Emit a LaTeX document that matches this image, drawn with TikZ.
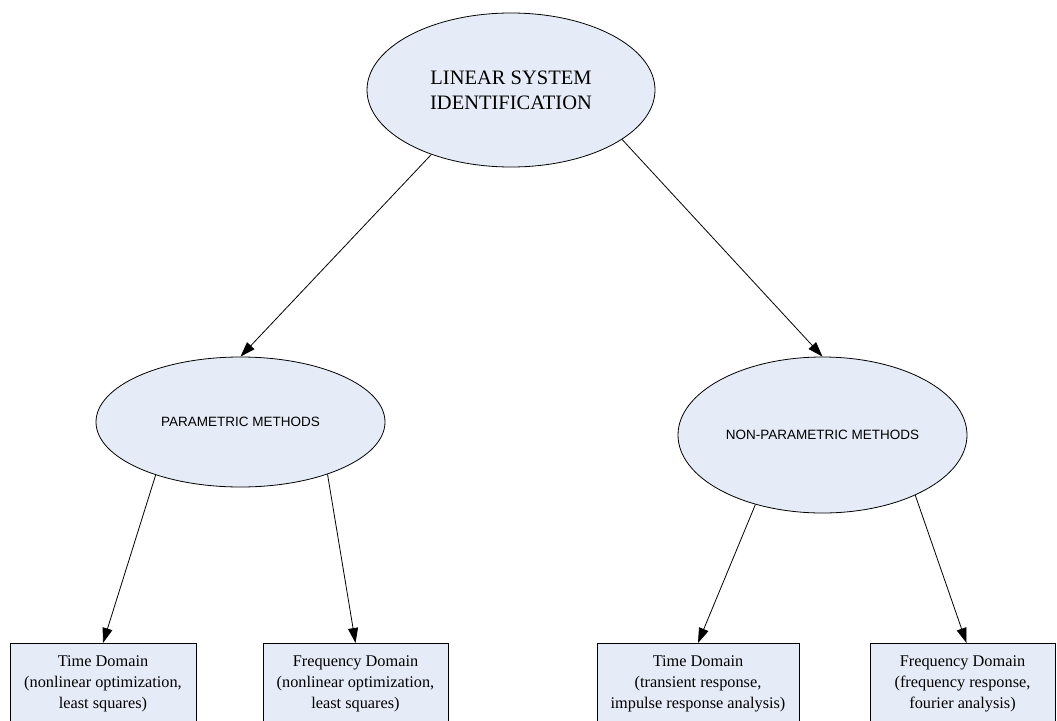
\documentclass[tikz,border=0pt]{standalone}
\usepackage{fontspec}
\setmainfont{Liberation Serif}
\newfontfamily\arialfont{Liberation Sans}
\usetikzlibrary{shapes.geometric,arrows.meta,calc}
\definecolor{nodefill}{RGB}{230,236,247}
\tikzset{
  ell/.style={ellipse, draw=black, fill=nodefill, line width=0.8pt, inner sep=0pt, align=center},
  dombox/.style={rectangle, draw=black, fill=nodefill, line width=0.8pt, inner sep=0pt, align=center,
    minimum height=80pt, anchor=north, font=\fontsize{16.3}{21}\selectfont},
  conn/.style={draw=black, line width=0.8pt, -{Triangle[length=15pt,width=10pt]}},
}
\begin{document}
\begin{tikzpicture}[x=1pt,y=-1pt]
\useasboundingbox (0,0) rectangle (1057,720);
\node[ell, minimum width=288pt, minimum height=154pt, font=\fontsize{20.5}{25}\selectfont] (top) at (511,90) {LINEAR SYSTEM\\IDENTIFICATION};
\node[ell, minimum width=289pt, minimum height=130pt, font=\arialfont\fontsize{13.5}{16}\selectfont] (par) at (240.5,422) {PARAMETRIC METHODS};
\node[ell, minimum width=289pt, minimum height=156pt, font=\arialfont\fontsize{13.5}{16}\selectfont] (npar) at (822.5,435) {NON-PARAMETRIC METHODS};
\node[dombox, minimum width=186pt] (b1) at (103,643) {Time Domain\\(nonlinear optimization,\\least squares)};
\node[dombox, minimum width=185pt] (b2) at (355.5,643) {Frequency Domain\\(nonlinear optimization,\\least squares)};
\node[dombox, minimum width=202pt] (b3) at (698,643) {Time Domain\\(transient response,\\impulse response analysis)};
\node[dombox, minimum width=185pt] (b4) at (962.5,643) {Frequency Domain\\(frequency response,\\fourier analysis)};
\draw[conn] (top.-141.4) -- (par.north);
\draw[conn] (top.-24.2) -- (npar.north);
\draw[conn] (par.-148.5) -- (b1.north);
\draw[conn] (par.-31.5) -- (b2.north);
\draw[conn] (npar.-134) -- (b3.north);
\draw[conn] (npar.-33.3) -- ($(b4.north)+(4,0)$);
\end{tikzpicture}
\end{document}
